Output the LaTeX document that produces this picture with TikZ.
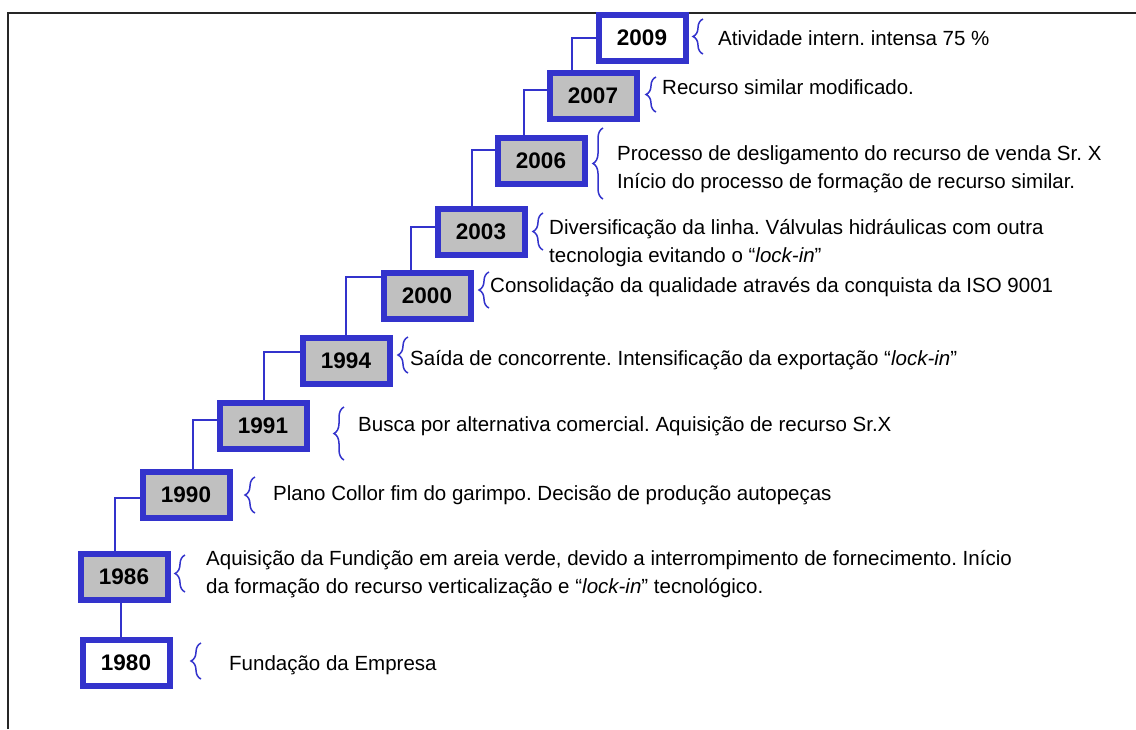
\documentclass[tikz,border=0pt]{standalone}
\usepackage{fontspec}
\setmainfont{Liberation Sans}
\frenchspacing
\usetikzlibrary{decorations.pathreplacing}
\definecolor{timeblue}{RGB}{51,51,204}
\definecolor{boxgray}{RGB}{192,192,192}
\tikzset{
  yearbox/.style={draw=timeblue,line width=6pt,fill=white,minimum width=87pt,minimum height=46pt,inner sep=0pt,font=\fontsize{22.5}{27}\selectfont\bfseries},
  graybox/.style={yearbox,fill=boxgray},
  link/.style={draw=timeblue,line width=2pt},
  bracket/.style={draw=timeblue,line width=1.5pt,decorate,decoration={brace,amplitude=10pt}},
  event/.style={anchor=west,inner sep=0pt,align=left,font=\fontsize{20.5}{27.5}\selectfont}
}
\begin{document}
\begin{tikzpicture}[x=1pt,y=-1pt]
    \useasboundingbox (0,0) rectangle (1136,729);
    %% frame
    \draw[line width=2.5pt,black!85] (8,729) -- (8,13) -- (1136,13);
    %% years
    \node[yearbox] (y1980) at (126,663) {1980};
    \node[graybox] (y1986) at (124,577) {1986};
    \node[graybox] (y1990) at (186,495) {1990};
    \node[graybox] (y1991) at (263,426) {1991};
    \node[graybox] (y1994) at (346,361) {1994};
    \node[graybox] (y2000) at (427,296) {2000};
    \node[graybox] (y2003) at (481,232) {2003};
    \node[graybox] (y2006) at (541,161) {2006};
    \node[graybox] (y2007) at (593,96) {2007};
    \node[yearbox] (y2009) at (642,38) {2009};
    %% steps
    \draw[link] ([xshift=-3]y1986.south) -- ([xshift=-3]y1986.south |- y1980.north);
    \draw[link] ([yshift=-3]y1990.west) -| ([xshift=-9]y1986.north);
    \draw[link] ([yshift=6]y1991.west) -| ([xshift=7]y1990.north);
    \draw[link] ([yshift=9]y1994.west) -| ([xshift=1]y1991.north);
    \draw[link] ([yshift=19]y2000.west) -| (y1994.north);
    \draw[link] ([yshift=5]y2003.west) -| ([xshift=-16]y2000.north);
    \draw[link] ([yshift=11]y2006.west) -| ([xshift=-9]y2003.north);
    \draw[link] ([yshift=6]y2007.west) -| ([xshift=-17]y2006.north);
    \draw[link] (y2009.west) -| ([xshift=-21]y2007.north);
    %% braces
    \draw[bracket] (201,679) -- (201,643);
    \draw[bracket] (185,592) -- (185,555);
    \draw[bracket] (255,513) -- (255,477);
    \draw[bracket] (344,460) -- (344,407);
    \draw[bracket] (408,373) -- (408,337);
    \draw[bracket] (489,308) -- (489,272);
    \draw[bracket] (543,250) -- (543,213);
    \draw[bracket] (603,199) -- (603,128);
    \draw[bracket] (656,112) -- (656,77);
    \draw[bracket] (703,54) -- (703,19);
    %% events
    \node[event] (t1980) at (229,665) {Fundação da Empresa};
    \node[event] (t1986) at (206,574) {Aquisição da Fundição em areia verde, devido a interrompimento de fornecimento. Início\\da formação do recurso verticalização e “\textit{lock-in}” tecnológico.};
    \node[event] (t1990) at (273,495) {Plano Collor fim do garimpo. Decisão de produção autopeças};
    \node[event] (t1991) at (358,426) {Busca por alternativa comercial. Aquisição de recurso Sr.X};
    \node[event] (t1994) at (410,360) {Saída de concorrente. Intensificação da exportação “\textit{lock-in}”};
    \node[event] (t2000) at (490,287) {Consolidação da qualidade através da conquista da ISO 9001};
    \node[event] (t2003) at (549,243) {Diversificação da linha. Válvulas hidráulicas com outra\\tecnologia evitando o “\textit{lock-in}”};
    \node[event] (t2006) at (617,169) {Processo de desligamento do recurso de venda Sr. X\\Início do processo de formação de recurso similar.};
    \node[event] (t2007) at (662,87) {Recurso similar modificado.};
    \node[event] (t2009) at (718,38) {Atividade intern. intensa 75 \%};
\end{tikzpicture}
\end{document}
